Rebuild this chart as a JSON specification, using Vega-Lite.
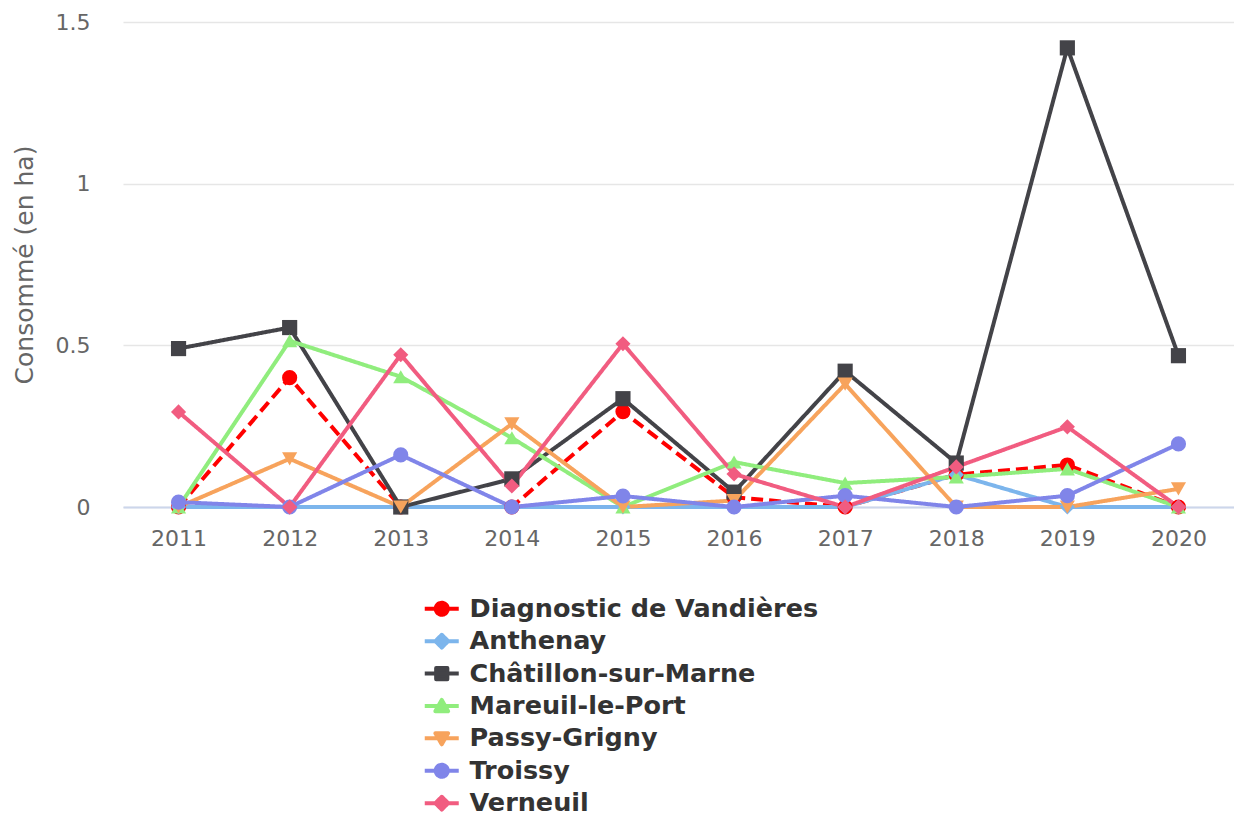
{
  "$schema": "https://vega.github.io/schema/vega-lite/v6.json",
  "autosize": {"type": "none"},
  "padding": {"left": 123, "top": 22, "right": 0, "bottom": 307},
  "width": 1111,
  "height": 485,
  "background": "white",
  "config": {
    "font": "DejaVu Sans",
    "view": {"stroke": null}
  },
  "data": {
    "values": [
      {"annee": "2011", "serie": "Diagnostic de Vandières", "valeur": 0},
      {"annee": "2012", "serie": "Diagnostic de Vandières", "valeur": 0.40},
      {"annee": "2013", "serie": "Diagnostic de Vandières", "valeur": 0},
      {"annee": "2014", "serie": "Diagnostic de Vandières", "valeur": 0},
      {"annee": "2015", "serie": "Diagnostic de Vandières", "valeur": 0.295},
      {"annee": "2016", "serie": "Diagnostic de Vandières", "valeur": 0.03},
      {"annee": "2017", "serie": "Diagnostic de Vandières", "valeur": 0},
      {"annee": "2018", "serie": "Diagnostic de Vandières", "valeur": 0.1},
      {"annee": "2019", "serie": "Diagnostic de Vandières", "valeur": 0.13},
      {"annee": "2020", "serie": "Diagnostic de Vandières", "valeur": 0},
      {"annee": "2011", "serie": "Anthenay", "valeur": 0},
      {"annee": "2012", "serie": "Anthenay", "valeur": 0},
      {"annee": "2013", "serie": "Anthenay", "valeur": 0},
      {"annee": "2014", "serie": "Anthenay", "valeur": 0},
      {"annee": "2015", "serie": "Anthenay", "valeur": 0},
      {"annee": "2016", "serie": "Anthenay", "valeur": 0},
      {"annee": "2017", "serie": "Anthenay", "valeur": 0},
      {"annee": "2018", "serie": "Anthenay", "valeur": 0.1},
      {"annee": "2019", "serie": "Anthenay", "valeur": 0},
      {"annee": "2020", "serie": "Anthenay", "valeur": 0},
      {"annee": "2011", "serie": "Châtillon-sur-Marne", "valeur": 0.49},
      {"annee": "2012", "serie": "Châtillon-sur-Marne", "valeur": 0.555},
      {"annee": "2013", "serie": "Châtillon-sur-Marne", "valeur": 0},
      {"annee": "2014", "serie": "Châtillon-sur-Marne", "valeur": 0.087},
      {"annee": "2015", "serie": "Châtillon-sur-Marne", "valeur": 0.335},
      {"annee": "2016", "serie": "Châtillon-sur-Marne", "valeur": 0.046},
      {"annee": "2017", "serie": "Châtillon-sur-Marne", "valeur": 0.42},
      {"annee": "2018", "serie": "Châtillon-sur-Marne", "valeur": 0.136},
      {"annee": "2019", "serie": "Châtillon-sur-Marne", "valeur": 1.42},
      {"annee": "2020", "serie": "Châtillon-sur-Marne", "valeur": 0.468},
      {"annee": "2011", "serie": "Mareuil-le-Port", "valeur": 0},
      {"annee": "2012", "serie": "Mareuil-le-Port", "valeur": 0.514},
      {"annee": "2013", "serie": "Mareuil-le-Port", "valeur": 0.403},
      {"annee": "2014", "serie": "Mareuil-le-Port", "valeur": 0.214},
      {"annee": "2015", "serie": "Mareuil-le-Port", "valeur": 0},
      {"annee": "2016", "serie": "Mareuil-le-Port", "valeur": 0.139},
      {"annee": "2017", "serie": "Mareuil-le-Port", "valeur": 0.074},
      {"annee": "2018", "serie": "Mareuil-le-Port", "valeur": 0.093},
      {"annee": "2019", "serie": "Mareuil-le-Port", "valeur": 0.118},
      {"annee": "2020", "serie": "Mareuil-le-Port", "valeur": 0},
      {"annee": "2011", "serie": "Passy-Grigny", "valeur": 0},
      {"annee": "2012", "serie": "Passy-Grigny", "valeur": 0.149},
      {"annee": "2013", "serie": "Passy-Grigny", "valeur": 0},
      {"annee": "2014", "serie": "Passy-Grigny", "valeur": 0.257},
      {"annee": "2015", "serie": "Passy-Grigny", "valeur": 0},
      {"annee": "2016", "serie": "Passy-Grigny", "valeur": 0.02},
      {"annee": "2017", "serie": "Passy-Grigny", "valeur": 0.38},
      {"annee": "2018", "serie": "Passy-Grigny", "valeur": 0},
      {"annee": "2019", "serie": "Passy-Grigny", "valeur": 0},
      {"annee": "2020", "serie": "Passy-Grigny", "valeur": 0.056},
      {"annee": "2011", "serie": "Troissy", "valeur": 0.015},
      {"annee": "2012", "serie": "Troissy", "valeur": 0},
      {"annee": "2013", "serie": "Troissy", "valeur": 0.161},
      {"annee": "2014", "serie": "Troissy", "valeur": 0},
      {"annee": "2015", "serie": "Troissy", "valeur": 0.034},
      {"annee": "2016", "serie": "Troissy", "valeur": 0},
      {"annee": "2017", "serie": "Troissy", "valeur": 0.035},
      {"annee": "2018", "serie": "Troissy", "valeur": 0},
      {"annee": "2019", "serie": "Troissy", "valeur": 0.035},
      {"annee": "2020", "serie": "Troissy", "valeur": 0.195},
      {"annee": "2011", "serie": "Verneuil", "valeur": 0.294},
      {"annee": "2012", "serie": "Verneuil", "valeur": 0},
      {"annee": "2013", "serie": "Verneuil", "valeur": 0.471},
      {"annee": "2014", "serie": "Verneuil", "valeur": 0.065},
      {"annee": "2015", "serie": "Verneuil", "valeur": 0.505},
      {"annee": "2016", "serie": "Verneuil", "valeur": 0.102},
      {"annee": "2017", "serie": "Verneuil", "valeur": 0},
      {"annee": "2018", "serie": "Verneuil", "valeur": 0.124},
      {"annee": "2019", "serie": "Verneuil", "valeur": 0.248},
      {"annee": "2020", "serie": "Verneuil", "valeur": 0}
    ]
  },
  "encoding": {
    "x": {
      "field": "annee",
      "type": "ordinal",
      "scale": {"type": "point", "padding": 0.5},
      "axis": {
        "title": null,
        "labelAngle": 0,
        "labelFontSize": 22,
        "labelColor": "#666666",
        "labelPadding": 21,
        "ticks": false,
        "grid": false,
        "domainColor": "#ccd6eb",
        "domainWidth": 2
      }
    },
    "y": {
      "field": "valeur",
      "type": "quantitative",
      "scale": {"domain": [0, 1.5], "nice": false},
      "axis": {
        "values": [0, 0.5, 1, 1.5],
        "format": "~g",
        "title": "Consommé (en ha)",
        "titleFontSize": 25,
        "titleFontWeight": "normal",
        "titleColor": "#666666",
        "titlePadding": 18,
        "labelFontSize": 22,
        "labelColor": "#666666",
        "labelPadding": 33,
        "domain": false,
        "ticks": false,
        "grid": true,
        "gridColor": "#e6e6e6",
        "gridWidth": 1.5
      }
    },
    "color": {
      "field": "serie",
      "type": "nominal",
      "scale": {
        "domain": ["Diagnostic de Vandières", "Anthenay", "Châtillon-sur-Marne", "Mareuil-le-Port", "Passy-Grigny", "Troissy", "Verneuil"],
        "range": ["#ff0000", "#7cb5ec", "#434348", "#90ed7d", "#f7a35c", "#8085e9", "#f15c80"]
      },
      "legend": {
        "title": null,
        "orient": "none",
        "legendX": 306,
        "legendY": 574,
        "padding": 0,
        "labelFontSize": 25.5,
        "labelFontWeight": "bold",
        "labelColor": "#333333",
        "labelLimit": 1000,
        "labelOffset": 15,
        "rowPadding": 5.4,
        "symbolSize": 256,
        "symbolStrokeWidth": 4,
        "encode": {
          "symbols": {
            "update": {
              "shape": {"signal": "datum.value === 'Diagnostic de Vandières' || datum.value === 'Troissy' ? 'M-2.125,0H2.125M0.75,0A0.75,0.75 0 1,1 -0.75,0A0.75,0.75 0 1,1 0.75,0Z' : (datum.value === 'Anthenay' || datum.value === 'Verneuil' ? 'M-2.125,0H2.125M0,-0.8L0.8,0L0,0.8L-0.8,0Z' : (datum.value === 'Châtillon-sur-Marne' ? 'M-2.125,0H2.125M-0.7,-0.7H0.7V0.7H-0.7Z' : (datum.value === 'Mareuil-le-Port' ? 'M-2.125,0H2.125M0,-0.75L0.8,0.65L-0.8,0.65Z' : 'M-2.125,0H2.125M0,0.75L0.8,-0.65L-0.8,-0.65Z')))"},
              "fill": {"scale": "color", "field": "value"},
              "stroke": {"scale": "color", "field": "value"},
              "strokeWidth": {"value": 4},
              "strokeDash": {"value": [1, 0]},
              "strokeJoin": {"value": "round"},
              "size": {"value": 256},
              "opacity": {"value": 1}
            }
          }
        }
      }
    }
  },
  "layer": [
    {
      "mark": {"type": "line", "strokeWidth": 4},
      "encoding": {
        "strokeDash": {
          "condition": {"test": "datum.serie === 'Diagnostic de Vandières'", "value": [12, 6]},
          "value": [1, 0]
        }
      }
    },
    {
      "mark": {"type": "point", "filled": true, "opacity": 1, "size": 230},
      "encoding": {
        "shape": {
          "condition": [
            {"test": "datum.serie === 'Anthenay' || datum.serie === 'Verneuil'", "value": "diamond"},
            {"test": "datum.serie === 'Châtillon-sur-Marne'", "value": "square"},
            {"test": "datum.serie === 'Mareuil-le-Port'", "value": "triangle-up"},
            {"test": "datum.serie === 'Passy-Grigny'", "value": "triangle-down"}
          ],
          "value": "circle"
        }
      }
    }
  ]
}
